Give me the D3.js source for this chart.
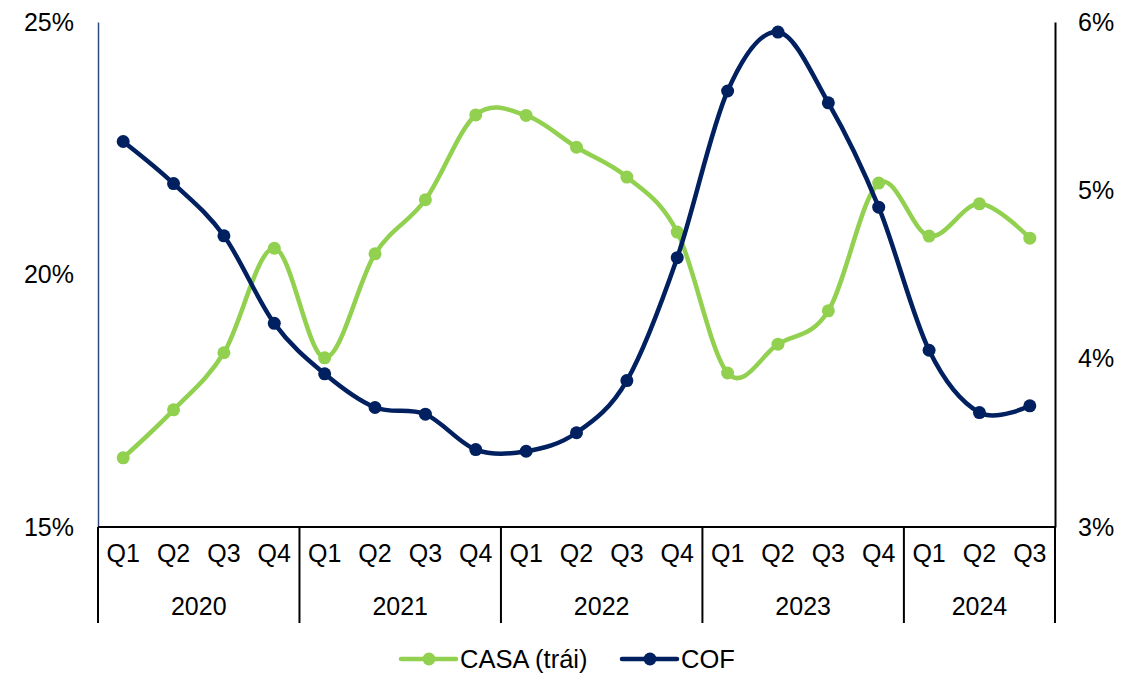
<!DOCTYPE html>
<html>
<head>
<meta charset="utf-8">
<script src="https://cdn.jsdelivr.net/npm/d3@7"></script>
<style>
  html, body { margin: 0; padding: 0; background: #fff; }
  svg { display: block; font-family: "Liberation Sans", Arial, sans-serif; }
</style>
</head>
<body>
<svg id="chart" width="1135" height="673"></svg>
<script>
// Quarterly data, 2020 Q1 – 2024 Q3
const years = ["2020", "2021", "2022", "2023", "2024"];
const quarters = ["Q1","Q2","Q3","Q4","Q1","Q2","Q3","Q4","Q1","Q2","Q3","Q4","Q1","Q2","Q3","Q4","Q1","Q2","Q3"];
const yearOfQuarter = [0,0,0,0,1,1,1,1,2,2,2,2,3,3,3,3,4,4,4];
// CASA ratio (left axis, %)
const casa = [16.37, 17.32, 18.45, 20.52, 18.35, 20.41, 21.48, 23.16, 23.15, 22.52, 21.93, 20.84, 18.05, 18.62, 19.28, 21.81, 20.76, 21.40, 20.72];
// Cost of funds (right axis, %)
const cof = [5.29, 5.04, 4.73, 4.21, 3.91, 3.71, 3.67, 3.46, 3.45, 3.56, 3.87, 4.60, 5.59, 5.94, 5.52, 4.90, 4.05, 3.68, 3.72];
const leftTicks = [15, 20, 25];
const rightTicks = [3, 4, 5, 6];
const seriesNames = ["CASA (trái)", "COF"];

const colors = { casa: "#92D050", cof: "#002060" };
const fontSize = 25;

const svg = d3.select("#chart");
const plotLeft = 98, plotRight = 1055, plotTop = 22, plotBottom = 527;

const x = d3.scaleBand().domain(d3.range(quarters.length)).range([plotLeft, plotRight]).paddingInner(0).paddingOuter(0);
const cx = i => x(i) + x.bandwidth() / 2;
const yL = d3.scaleLinear().domain([15, 25]).range([plotBottom, plotTop]);
const yR = d3.scaleLinear().domain([3, 6]).range([plotBottom, plotTop]);

// Left axis
const gL = svg.append("g").attr("transform", `translate(${plotLeft},0)`)
  .call(d3.axisLeft(yL).tickValues(leftTicks).tickSize(0).tickPadding(24).tickFormat(d => d + "%"));
gL.select(".domain").attr("stroke", "#2F4B7C").attr("stroke-width", 1.5);
gL.selectAll("text").attr("font-size", fontSize).attr("fill", "#000").attr("font-family", "Liberation Sans, Arial, sans-serif");

// Right axis
const gR = svg.append("g").attr("transform", `translate(${plotRight},0)`)
  .call(d3.axisRight(yR).tickValues(rightTicks).tickSize(0).tickPadding(23).tickFormat(d => d + "%"));
gR.select(".domain").attr("stroke", "#000").attr("stroke-width", 2);
gR.selectAll("text").attr("font-size", fontSize).attr("fill", "#000").attr("font-family", "Liberation Sans, Arial, sans-serif");

// Bottom category axis (quarters)
const gB = svg.append("g").attr("transform", `translate(0,${plotBottom})`)
  .call(d3.axisBottom(x).tickSize(0).tickPadding(17).tickFormat(i => quarters[i]));
gB.select(".domain").attr("stroke", "#000").attr("stroke-width", 2).attr("d", `M${plotLeft},0H${plotRight}`);
gB.selectAll("text").attr("font-size", fontSize).attr("fill", "#000").attr("font-family", "Liberation Sans, Arial, sans-serif");

// Year grouping brackets
const yearBounds = years.map((yr, k) => {
  const idx = yearOfQuarter.map((v, i) => v === k ? i : -1).filter(i => i >= 0);
  return { yr, x0: x(idx[0]), x1: x(idx[idx.length - 1]) + x.bandwidth() };
});
const sepX = [plotLeft].concat(yearBounds.map(b => b.x1));
svg.append("g").selectAll("line").data(sepX).join("line")
  .attr("x1", d => d).attr("x2", d => d)
  .attr("y1", plotBottom).attr("y2", 623)
  .attr("stroke", "#000").attr("stroke-width", 2);
svg.append("g").selectAll("text").data(yearBounds).join("text")
  .attr("x", d => (d.x0 + d.x1) / 2).attr("y", 606)
  .attr("dy", "0.35em")
  .attr("text-anchor", "middle").attr("font-size", fontSize).attr("fill", "#000")
  .text(d => d.yr);

// Smoothed lines
const curve = d3.curveCardinal.tension(0);
const lineL = d3.line().x((d, i) => cx(i)).y(d => yL(d)).curve(curve);
const lineR = d3.line().x((d, i) => cx(i)).y(d => yR(d)).curve(curve);

function drawSeries(data, line, yScale, color) {
  svg.append("path").datum(data).attr("d", line)
    .attr("fill", "none").attr("stroke", color).attr("stroke-width", 4.5)
    .attr("stroke-linejoin", "round").attr("stroke-linecap", "round");
  svg.append("g").selectAll("circle").data(data).join("circle")
    .attr("cx", (d, i) => cx(i)).attr("cy", d => yScale(d))
    .attr("r", 6.5).attr("fill", color);
}
drawSeries(casa, lineL, yL, colors.casa);
drawSeries(cof, lineR, yR, colors.cof);

// Legend
const legend = [
  { name: seriesNames[0], color: colors.casa, x: 401 },
  { name: seriesNames[1], color: colors.cof, x: 622 }
];
const lg = svg.append("g").selectAll("g").data(legend).join("g")
  .attr("transform", d => `translate(${d.x},659)`);
lg.append("line").attr("x1", 0).attr("x2", 55).attr("y1", 0).attr("y2", 0)
  .attr("stroke", d => d.color).attr("stroke-width", 4.5).attr("stroke-linecap", "round");
lg.append("circle").attr("cx", 28).attr("cy", 0).attr("r", 6.5).attr("fill", d => d.color);
lg.append("text").attr("x", 59).attr("y", 0).attr("dy", "0.35em")
  .attr("font-size", 25.5).attr("fill", "#000").text(d => d.name);
</script>
</body>
</html>
